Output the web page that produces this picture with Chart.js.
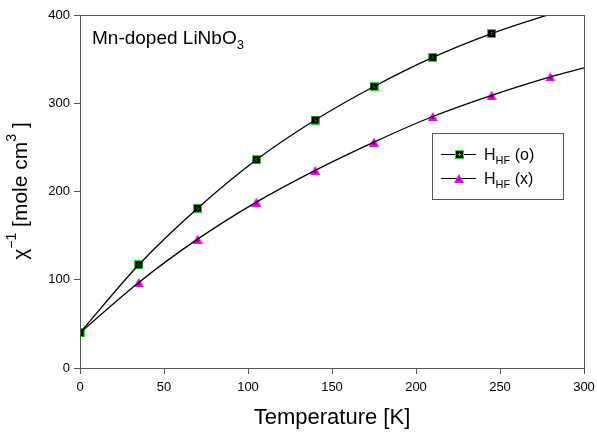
<!DOCTYPE html>
<html><head><meta charset="utf-8">
<script src="https://cdn.jsdelivr.net/npm/chart.js@4/dist/chart.umd.min.js"></script>
<style>html,body{margin:0;padding:0;background:#fff}#c{display:block}</style>
</head><body>
<canvas id="c" width="597" height="433"></canvas>
<script>
// Data
const temps = [0, 35, 70, 105, 140, 175, 210, 245, 280];
const hfO = [40, 117, 181, 236, 281, 319, 352, 379];
const hfX = [40, 97, 146, 188, 224, 256, 285, 309, 330];
// Fitted curve end values (read at T = 300)
const curveEndT = 300;
const hfOEnd = 413;
const hfXEnd = 340;
const xTicks = [0, 50, 100, 150, 200, 250, 300];
const yTicks = [0, 100, 200, 300, 400];
const seriesLabels = ['(o)', '(x)'];
const titleX = 'Temperature [K]';
// y title pieces: [text, superscript?]
const titleYParts = [['χ', false], ['−1', true], [' [mole cm', false], ['3', true], [' ]', false]];
const FONT = '"Liberation Sans", Arial, sans-serif';

function squareMarker(){
  const c = document.createElement('canvas'); c.width = 9; c.height = 9;
  const g = c.getContext('2d');
  g.fillStyle = '#22dd22'; g.fillRect(0,0,9,9);
  g.fillStyle = '#000'; g.fillRect(1,1,7,7);
  g.fillStyle = '#22dd22'; g.fillRect(4,3,1,3); g.fillRect(3,4,3,1);
  return c;
}
function triMarker(){
  const c = document.createElement('canvas'); c.width = 10; c.height = 9;
  const g = c.getContext('2d');
  g.fillStyle = '#ee00ee';
  g.beginPath(); g.moveTo(5,0); g.lineTo(10,9); g.lineTo(0,9); g.closePath(); g.fill();
  g.fillStyle = '#550055'; g.fillRect(4,5,2,2);
  return c;
}
const sq = squareMarker(), tri = triMarker();

const pts = (xs, ys) => ys.map((y,i)=>({x:xs[i], y:y}));

const extra = {
  id:'extra',
  afterDraw(chart){
    const ctx = chart.ctx, a = chart.chartArea;
    ctx.save();
    ctx.strokeStyle = '#555'; ctx.lineWidth = 1;
    ctx.strokeRect(Math.round(a.left)+0.5, Math.round(a.top)+0.5, Math.round(a.right-a.left), Math.round(a.bottom-a.top));
    // annotation
    ctx.fillStyle = '#000'; ctx.textBaseline = 'alphabetic'; ctx.textAlign='left';
    ctx.font = '19px ' + FONT;
    const t1 = 'Mn-doped LiNbO';
    ctx.fillText(t1, 92, 44);
    const w1 = ctx.measureText(t1).width;
    ctx.font = '13px ' + FONT;
    ctx.fillText('3', 92 + w1, 49);
    // legend
    const lx = 432, ly = 133, lw = 131, lh = 66;
    ctx.strokeStyle = '#555';
    ctx.strokeRect(lx+0.5, ly+0.5, lw, lh);
    const rows = [{y:154, m:sq, s:seriesLabels[0]}, {y:178, m:tri, s:seriesLabels[1]}];
    rows.forEach(r=>{
      ctx.strokeStyle = '#000'; ctx.beginPath(); ctx.moveTo(441, r.y+0.5); ctx.lineTo(476, r.y+0.5); ctx.stroke();
      ctx.drawImage(r.m, 459 - Math.floor(r.m.width/2), r.y - 4);
      ctx.fillStyle = '#000';
      ctx.font = '16px ' + FONT;
      ctx.fillText('H', 484, r.y + 6);
      const wh = ctx.measureText('H').width;
      ctx.font = '11px ' + FONT;
      ctx.fillText('HF', 484 + wh, r.y + 10);
      const ws = ctx.measureText('HF').width;
      ctx.font = '16px ' + FONT;
      ctx.fillText(' ' + r.s, 484 + wh + ws, r.y + 6);
    });
    // x title
    ctx.font = '22px ' + FONT; ctx.textAlign = 'center';
    ctx.fillText(titleX, (a.left + a.right)/2, 424);
    ctx.textAlign = 'left';
    // y title with superscripts
    const big = '21px ' + FONT, small = '14px ' + FONT;
    let total = 0;
    titleYParts.forEach(p=>{ ctx.font = p[1] ? small : big; total += ctx.measureText(p[0]).width; });
    ctx.translate(27, 191);
    ctx.rotate(-Math.PI/2);
    let x = -total/2;
    titleYParts.forEach(p=>{
      ctx.font = p[1] ? small : big;
      ctx.fillText(p[0], x, p[1] ? -11 : 0);
      x += ctx.measureText(p[0]).width;
    });
    ctx.restore();
  }
};

new Chart(document.getElementById('c'), {
  type:'scatter',
  data:{datasets:[
    {label:'fitO', data: pts(temps, hfO).concat([{x:curveEndT, y:hfOEnd}]), showLine:true, pointRadius:0, borderColor:'#000', borderWidth:1.3, cubicInterpolationMode:'monotone', fill:false},
    {label:'fitX', data: pts(temps, hfX).concat([{x:curveEndT, y:hfXEnd}]), showLine:true, pointRadius:0, borderColor:'#000', borderWidth:1.3, cubicInterpolationMode:'monotone', fill:false},
    {label:'HHF (o)', data: pts(temps, hfO), pointStyle: sq, pointRadius:5},
    {label:'HHF (x)', data: pts(temps, hfX), pointStyle: tri, pointRadius:5}
  ]},
  options:{
    responsive:false, animation:false,
    layout:{padding:{top:15, right:13, left:0, bottom:0}},
    plugins:{legend:{display:false}, tooltip:{enabled:false}},
    scales:{
      x:{type:'linear', min:0, max:300,
        afterBuildTicks(s){ s.ticks = xTicks.map(v=>({value:v})); },
        afterFit(s){ s.height = 65; s.paddingLeft = 0; s.paddingRight = 0; },
        grid:{drawOnChartArea:false, drawTicks:true, tickLength:6, color:'#555'},
        border:{color:'#555'},
        ticks:{color:'#000', padding:6, font:{size:13, family:FONT}, maxRotation:0},
        title:{display:false}
      },
      y:{type:'linear', min:0, max:400,
        afterBuildTicks(s){ s.ticks = yTicks.map(v=>({value:v})); },
        afterFit(s){ s.width = 80; s.paddingTop = 0; s.paddingBottom = 0; },
        grid:{drawOnChartArea:false, drawTicks:true, tickLength:6, color:'#555'},
        border:{color:'#555'},
        ticks:{color:'#000', padding:4, font:{size:13, family:FONT}},
        title:{display:false}
      }
    }
  },
  plugins:[extra]
});
</script>
</body></html>
